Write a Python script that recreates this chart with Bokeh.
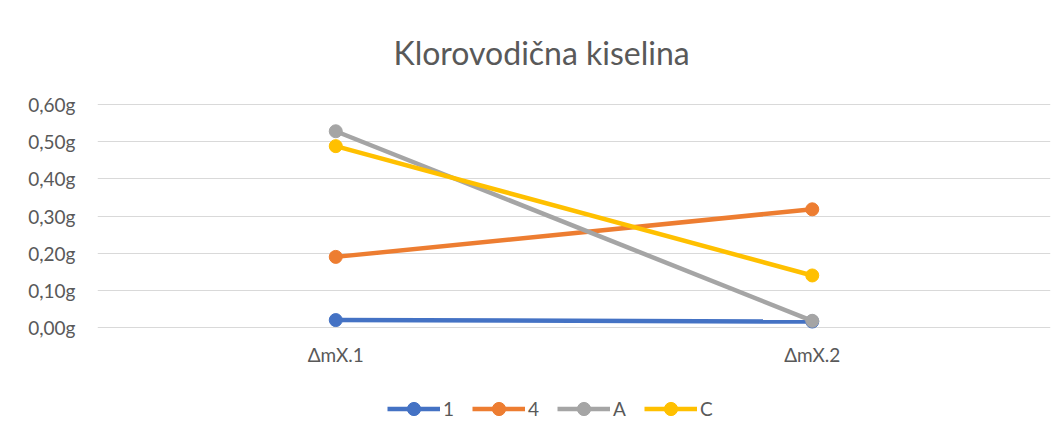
from bokeh.plotting import figure
from bokeh.models import FixedTicker, Legend, LegendItem, Range1d, Label
from bokeh.embed import file_html
from bokeh.resources import INLINE

# ---- data ----
categories = ["ΔmX.1", "ΔmX.2"]
series_names = ["1", "4", "A", "C"]
s_1 = [0.020, 0.016]
s_4 = [0.190, 0.318]
s_A = [0.528, 0.018]
s_C = [0.488, 0.140]
series_values = [s_1, s_4, s_A, s_C]
colors = ["#4472C4", "#ED7D31", "#A5A5A5", "#FFC000"]
y_ticks = [0.0, 0.1, 0.2, 0.3, 0.4, 0.5, 0.6]
y_tick_labels = ["0,00g", "0,10g", "0,20g", "0,30g", "0,40g", "0,50g", "0,60g"]
title_text = "Klorovodična kiselina"

FONT = "Lato"
TXT = "#595959"

# ---- layout geometry (pixels inside the figure) ----
W, H = 1054, 427
FRAME_TOP, FRAME_BOTTOM = 12, 425
GRID_TOP, GRID_ZERO = 104, 327
px_per_unit = (GRID_ZERO - GRID_TOP) / y_ticks[-1]
y_max = y_ticks[-1] + (GRID_TOP - FRAME_TOP) / px_per_unit
y_min = -(FRAME_BOTTOM - GRID_ZERO) / px_per_unit

p = figure(width=W, height=H, x_range=categories, y_range=Range1d(y_min, y_max),
           output_backend="svg", toolbar_location=None,
           min_border_left=97, min_border_right=4, min_border_top=FRAME_TOP,
           min_border_bottom=H - FRAME_BOTTOM)

p.outline_line_color = None
p.background_fill_color = "white"
p.border_fill_color = "white"

p.xgrid.grid_line_color = None
p.ygrid.grid_line_color = "#D9D9D9"
p.ygrid.grid_line_width = 1

p.yaxis.ticker = FixedTicker(ticks=y_ticks)
p.yaxis.major_label_overrides = {t: l for t, l in zip(y_ticks, y_tick_labels)}
p.yaxis.axis_line_color = None
p.yaxis.major_tick_line_color = None
p.yaxis.major_tick_out = 0
p.yaxis.major_tick_in = 0
p.yaxis.minor_tick_line_color = None
p.yaxis.major_label_standoff = 22
p.yaxis.major_label_text_font = FONT
p.yaxis.major_label_text_font_size = "19px"
p.yaxis.major_label_text_color = TXT

# x axis drawn at a fixed data position just under the 0 gridline
p.xaxis.fixed_location = -35.5 / px_per_unit
p.xaxis.axis_line_color = None
p.xaxis.major_tick_line_color = None
p.xaxis.major_tick_out = 0
p.xaxis.major_tick_in = 0
p.xaxis.minor_tick_line_color = None
p.xaxis.major_label_standoff = -20
p.xaxis.major_label_text_font = FONT
p.xaxis.major_label_text_font_size = "19px"
p.xaxis.major_label_text_color = TXT

# title inside the frame, above the 0,60g gridline
p.add_layout(Label(x=0.932, y=(GRID_ZERO - 52) / px_per_unit, text=title_text,
                   text_font=FONT, text_font_size="32px", text_color=TXT,
                   text_align="center", text_baseline="middle"))

items = []
for name, vals, col in zip(series_names, series_values, colors):
    r1 = p.line(categories, vals, line_color=col, line_width=4.5)
    r2 = p.scatter(categories, vals, size=13, fill_color=col, line_color=col)
    items.append(LegendItem(label=name, renderers=[r1, r2]))

legend = Legend(items=items, orientation="horizontal", location=(290, 0))
legend.glyph_width = 53
legend.glyph_height = 33
legend.label_width = 0
legend.label_standoff = 3
legend.spacing = 18
legend.padding = 0
legend.margin = 0
legend.border_line_color = None
legend.background_fill_alpha = 0
legend.label_text_font = FONT
legend.label_text_font_size = "19px"
legend.label_text_color = TXT
p.add_layout(legend, "center")

open("out.html", "w").write(file_html(p, INLINE))
